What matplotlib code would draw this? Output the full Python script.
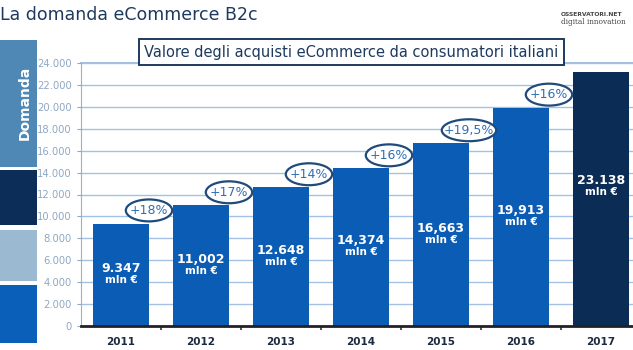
import numpy as np
import matplotlib.pyplot as plt
from matplotlib.patches import Rectangle, Ellipse

years = ['2011', '2012', '2013', '2014', '2015', '2016', '2017']
values = [9347, 11002, 12648, 14374, 16663, 19913, 23138]
value_labels = ['9.347', '11,002', '12.648', '14,374', '16,663', '19,913', '23.138']
growth_labels = ['+18%', '+17%', '+14%', '+16%', '+19,5%', '+16%']

W, H = 633, 350
BLUE = '#0a5cb5'
NAVY = '#0b2c55'
TITLE_C = '#1d3a5e'


def fig_rect(fig, x0, y0, x1, y1, color):
    # pixel coords from the top-left corner
    fig.add_artist(Rectangle((x0 / W, 1 - y1 / H), (x1 - x0) / W, (y1 - y0) / H,
                             transform=fig.transFigure, facecolor=color,
                             edgecolor='none'))


fig = plt.figure(figsize=(W / 100, H / 100), dpi=100)

# left side tiles
fig_rect(fig, 0, 40, 37, 167, '#4f87b5')
fig_rect(fig, 0, 170, 37, 225, '#0b2d57')
fig_rect(fig, 0, 230, 37, 281, '#9bbad2')
fig_rect(fig, 0, 285, 37, 343, '#0a60b8')
fig.text(25 / W, 1 - 103 / H, 'Domanda', rotation=90, color='white',
         fontsize=10, fontweight='bold', ha='center', va='center')

fig.text(0, 1 - 15 / H, 'La domanda eCommerce B2c', color=TITLE_C,
         fontsize=12.5, ha='left', va='center')

fig.text(561 / W, 1 - 14 / H, 'OSSERVATORI.NET', color='#444444',
         fontsize=4.3, fontweight='bold', ha='left', va='center')
fig.text(561 / W, 1 - 22 / H, 'digital innovation', color='#444444',
         fontsize=5.3, family='serif', ha='left', va='center')

ax = fig.add_axes([81 / W, 24 / H, 552 / W, 263 / H])
x = np.arange(len(years))
colors = [BLUE] * (len(years) - 1) + [NAVY]
ax.bar(x, values, width=0.71, color=colors, zorder=3)

ax.set_xlim(-0.5, 6.4)
ax.set_ylim(0, 24000)
ax.set_yticks(np.arange(0, 24001, 2000))
ax.set_yticklabels([f'{v:,}'.replace(',', '.') for v in range(0, 24001, 2000)])
ax.grid(axis='y', color='#a2c2e4', linewidth=1, zorder=0)
ax.axhline(24000, color='#8fb2d6', linewidth=1.2, zorder=1, clip_on=False)
ax.tick_params(axis='y', colors='#8ea8c4', labelsize=7.2, length=3, width=0.8)

ax.set_xticks(x)
ax.set_xticklabels(years, fontsize=7.5, fontweight='bold', color='#1a2a40')
ax.set_xticks(x[:-1] + 0.5, minor=True)
ax.tick_params(axis='x', which='major', length=0, pad=8)
ax.tick_params(axis='x', which='minor', length=3, width=1.2, color='#333333')

for side in ['top', 'right']:
    ax.spines[side].set_visible(False)
ax.spines['left'].set_color('#8fb2d6')
ax.spines['bottom'].set_color('#222222')
ax.spines['bottom'].set_linewidth(2)
ax.spines['bottom'].set_zorder(4)

for i, (v, lab) in enumerate(zip(values, value_labels)):
    ypos = v / 2 if i < len(values) - 1 else v * 0.55
    ax.text(i, ypos, lab, color='white', fontsize=9, fontweight='bold',
            ha='center', va='bottom', zorder=5)
    ax.text(i, ypos, 'mln €', color='white', fontsize=7.5, fontweight='bold',
            ha='center', va='top', zorder=5)

# growth badges: ellipse drawn in data units (1 cat = 80 px, 1000 = ~11 px)
for i, g in enumerate(growth_labels):
    cx, cy = i + 0.35, values[i] + 1200
    ax.add_patch(Ellipse((cx, cy), 0.38 + 0.05 * len(g), 2000,
                         facecolor='white', edgecolor='#1f4a7a',
                         linewidth=1.6, zorder=6, clip_on=False))
    ax.text(cx, cy, g, color='#2f6db3', fontsize=9,
            ha='center', va='center', zorder=7)

# subtitle box
fig.text((138 + 565) / 2 / W, 1 - 52 / H,
         'Valore degli acquisti eCommerce da consumatori italiani',
         color=TITLE_C, fontsize=10.5, ha='center', va='center', zorder=10,
         bbox=dict(boxstyle='square,pad=0.35', facecolor='white',
                   edgecolor='#1d3a5e', linewidth=1.4))

fig.savefig('out.png', dpi=100)
